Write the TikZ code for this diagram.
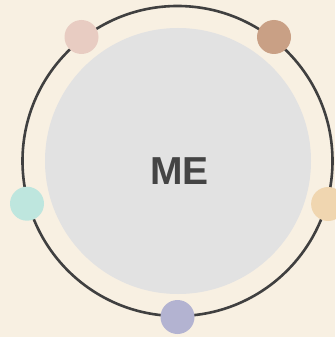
\documentclass[tikz,border=0pt]{standalone}
\usepackage{fontspec}
\setmainfont{Liberation Sans}
\usetikzlibrary{calc}
\definecolor{bg}{HTML}{F8F0E2}
\definecolor{ring}{HTML}{404040}
\definecolor{core}{HTML}{E2E2E2}
\definecolor{cpink}{HTML}{E8CCC2}
\definecolor{cbrown}{HTML}{C9A085}
\definecolor{cmint}{HTML}{BEE6DE}
\definecolor{ctan}{HTML}{F0D6B0}
\definecolor{clav}{HTML}{B3B3D1}
\definecolor{txt}{HTML}{444444}
\begin{document}
\begin{tikzpicture}[x=1pt,y=-1pt,
  dot/.style={circle,minimum size=34pt,inner sep=0pt,draw=none}]
\fill[bg] (0,0) rectangle (335,337);
\useasboundingbox (0,0) rectangle (335,337);
\coordinate (c) at (177.5,161);
\draw[ring,line width=2.6pt] (c) circle[radius=155];
\node[circle,fill=core,minimum size=266pt,inner sep=0pt] (me) at (178,161) {};
\node[text=txt,font=\fontsize{39}{39}\selectfont\bfseries,anchor=base] (label) at (179.5,184) {ME};
\node[dot,fill=clav] (d1) at ($(c)+(0,156)$) {};
\node[dot,fill=ctan] (d2) at ($(c)+(150.6,43)$) {};
\node[dot,fill=cbrown] (d3) at ($(c)+(96.5,-124)$) {};
\node[dot,fill=cpink] (d4) at ($(c)+(-96,-124)$) {};
\node[dot,fill=cmint] (d5) at ($(c)+(-150.5,42.7)$) {};
\end{tikzpicture}
\end{document}
